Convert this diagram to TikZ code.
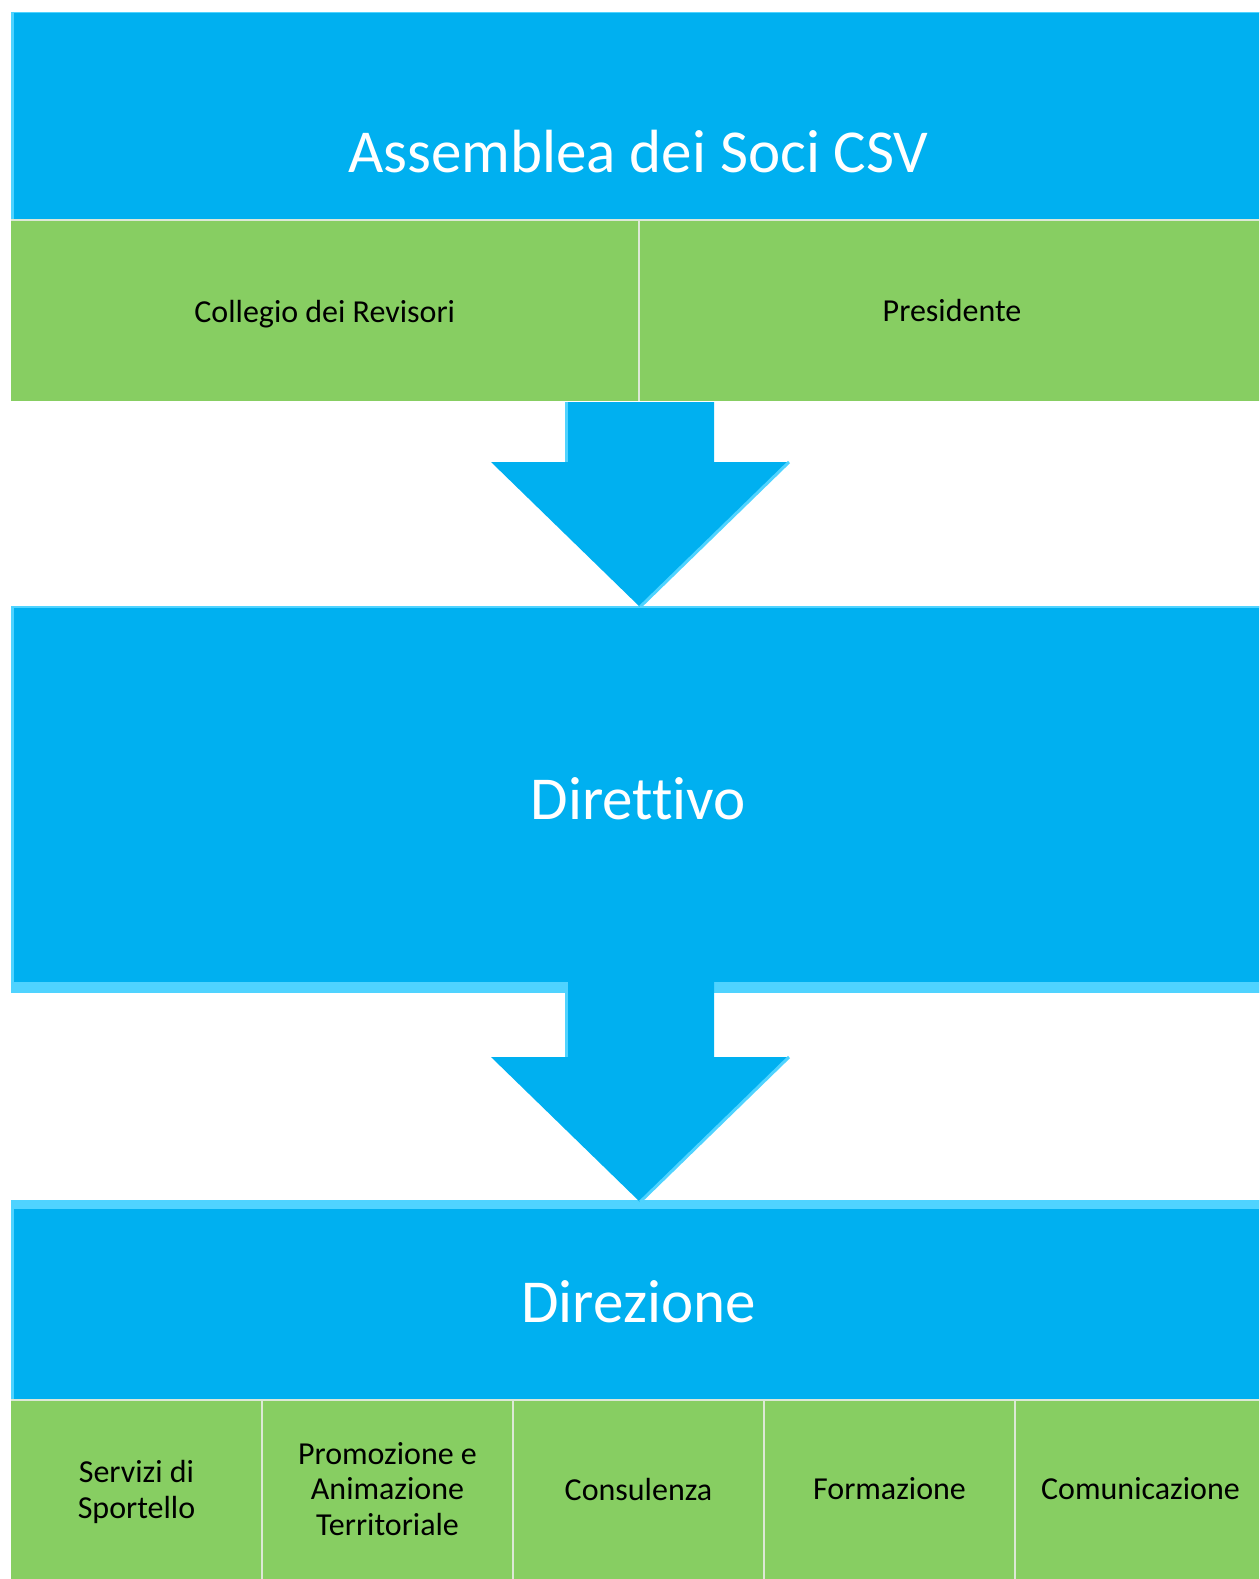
\documentclass[tikz,border=0pt]{standalone}
\usepackage{fontspec}
\setmainfont{Carlito}[Ligatures=NoCommon]

\definecolor{csvblue}{HTML}{00B0F0}
\definecolor{csvlight}{HTML}{4FD3FF}
\definecolor{csvgreen}{HTML}{87CE62}
\definecolor{csvline}{HTML}{DCE8D6}

\tikzset{
    bigtext/.style={text=white, font=\fontsize{61}{70}\selectfont},
    smalltext/.style={text=black, font=\fontsize{32}{35.3}\selectfont, align=center},
    bevel/.style={csvlight, line width=3pt},
    divider/.style={csvline, line width=2pt},
}

\begin{document}
\begin{tikzpicture}[x=1pt, y=-1pt]
    \useasboundingbox (0,0) rectangle (1259,1579);
    \clip (0,0) rectangle (1259,1579);

    \coordinate (A) at (11, 12);
    \coordinate (B) at (1266, 220);
    \coordinate (C) at (11, 220);
    \coordinate (D) at (1266, 401);
    \coordinate (E) at (638.5, 220);
    \coordinate (F) at (638.5, 401);
    \coordinate (G) at (11, 606);
    \coordinate (H) at (1266, 993);
    \coordinate (I) at (11, 1200);
    \coordinate (J) at (1266, 1400);
    \coordinate (K) at (11, 1400);
    \coordinate (L) at (1266, 1579);
    \coordinate (K1) at (262, 1400);
    \coordinate (K2) at (513, 1400);
    \coordinate (K3) at (764, 1400);
    \coordinate (K4) at (1015, 1400);
    \coordinate (M1) at (262, 1579);
    \coordinate (M2) at (513, 1579);
    \coordinate (M3) at (764, 1579);
    \coordinate (M4) at (1015, 1579);

    % 箭头的点
    \coordinate (P1) at (566, 402);
    \coordinate (P2) at (714, 402);
    \coordinate (P3) at (714, 462);
    \coordinate (P4) at (789, 462);
    \coordinate (P5) at (640, 607);
    \coordinate (P6) at (491, 462);
    \coordinate (P7) at (566, 462);
    \coordinate (Q1) at (566, 982);
    \coordinate (Q2) at (714, 982);
    \coordinate (Q3) at (714, 1057);
    \coordinate (Q4) at (789, 1057);
    \coordinate (Q5) at (640, 1202);
    \coordinate (Q6) at (491, 1057);
    \coordinate (Q7) at (566, 1057);

    % 方框
    \fill [csvblue] (A) rectangle (B);
    \fill [csvgreen] (C) rectangle (D);
    \fill [csvblue] (G) rectangle (H);
    \fill [csvlight] (11, 982) rectangle (H);
    \fill [csvblue] (I) rectangle (J);
    \fill [csvlight] (I) rectangle (1266, 1209);
    \fill [csvgreen] (K) rectangle (L);

    % 边缘
    \draw [bevel] (12.5, 12) -- (12.5, 220);
    \draw [bevel] (12.5, 606) -- (12.5, 993);
    \draw [bevel] (12.5, 1200) -- (12.5, 1400);
    \draw [csvlight, line width=1.5pt] (11, 12.75) -- (1266, 12.75);
    \draw [csvlight, line width=1.5pt] (11, 606.75) -- (1266, 606.75);
    \draw [divider] (C) -- (B);
    \draw [divider] (K) -- (J);
    \draw [divider] (E) -- (F);
    \draw [divider] (K1) -- (M1);
    \draw [divider] (K2) -- (M2);
    \draw [divider] (K3) -- (M3);
    \draw [divider] (K4) -- (M4);

    % 箭头
    \fill [csvblue] (P1) -- (P2) -- (P3) -- (P4) -- (P5) -- (P6) -- (P7) -- cycle;
    \draw [bevel] (P1) -- (P7);
    \draw [bevel] (P4) -- (P5);
    \fill [csvblue] (Q1) -- (Q2) -- (Q3) -- (Q4) -- (Q5) -- (Q6) -- (Q7) -- cycle;
    \draw [bevel] (Q1) -- (Q7);
    \draw [bevel] (Q4) -- (Q5);

    % 文字
    \node [bigtext] (assemblea) at (638.5, 152) {Assemblea dei Soci CSV};
    \node [smalltext] (collegio) at (324.75, 314) {Collegio dei Revisori};
    \node [smalltext] (presidente) at (952, 311) {Presidente};
    \node [bigtext] (direttivo) at (638.5, 799) {Direttivo};
    \node [bigtext] (direzione) at (638.5, 1302) {Direzione};
    \node [smalltext] (sportello) at (136.5, 1492) {Servizi di\\Sportello};
    \node [smalltext] (promozione) at (387.5, 1489) {Promozione e\\Animazione\\Territoriale};
    \node [smalltext] (consulenza) at (638.5, 1489) {Consulenza};
    \node [smalltext] (formazione) at (889.5, 1489) {Formazione};
    \node [smalltext] (comunicazione) at (1140.5, 1489) {Comunicazione};
\end{tikzpicture}
\end{document}
